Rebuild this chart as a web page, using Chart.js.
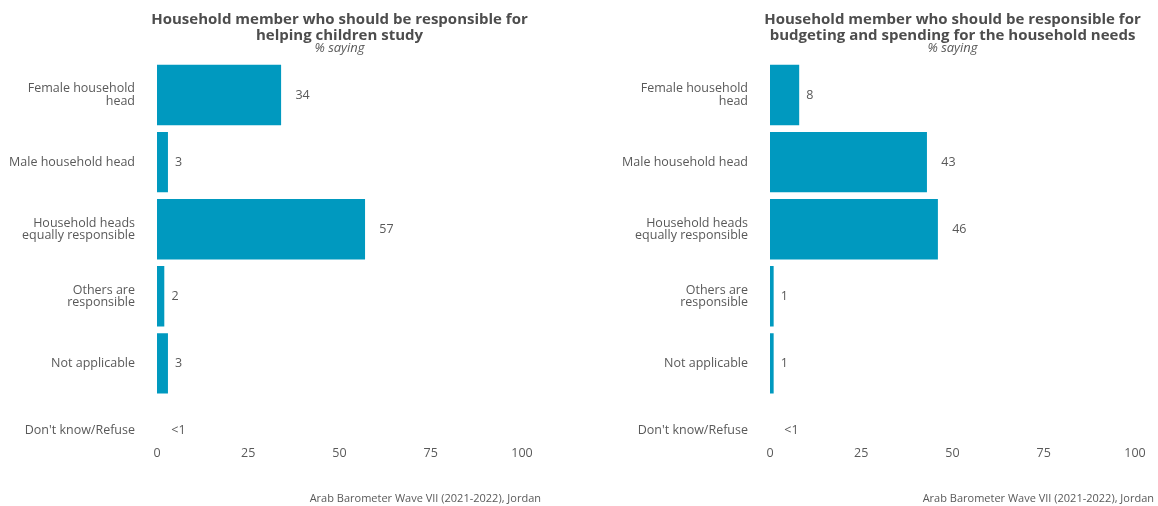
<!DOCTYPE html>
<html>
<head>
<meta charset="utf-8">
<script src="https://cdn.jsdelivr.net/npm/chart.js@4.4.1/dist/chart.umd.min.js"></script>
<style>
  html, body { margin: 0; padding: 0; background: #ffffff; }
  body { width: 1158px; height: 506px; position: relative; overflow: hidden; }
  .panel { position: absolute; top: 0; width: 545px; height: 506px; }
  #p1 { left: 0; }
  #p2 { left: 613px; }
</style>
</head>
<body>
<div class="panel" id="p1"><canvas id="c1" width="545" height="506"></canvas></div>
<div class="panel" id="p2"><canvas id="c2" width="545" height="506"></canvas></div>
<script>
const categories = [
  ['Female household', 'head'],
  'Male household head',
  ['Household heads', 'equally responsible'],
  ['Others are', 'responsible'],
  'Not applicable',
  "Don't know/Refuse"
];
const studyValues = [34, 3, 57, 2, 3, 0];
const studyLabels = ['34', '3', '57', '2', '3', '<1'];
const budgetValues = [8, 43, 46, 1, 1, 0];
const budgetLabels = ['8', '43', '46', '1', '1', '<1'];
const xTicks = [0, 25, 50, 75, 100];
const titleStudy = ['Household member who should be responsible for', 'helping children study'];
const titleBudget = ['Household member who should be responsible for', 'budgeting and spending for the household needs'];
const subtitleText = '% saying';
const captionText = 'Arab Barometer Wave VII (2021-2022), Jordan';

const FONT = "'Open Sans', sans-serif";
const TEXT = '#595959';
const TITLE = '#4d4d4d';
const BAR = '#0099bf';

const valueLabelPlugin = {
  id: 'valueLabels',
  afterDatasetsDraw(chart, args, opts) {
    const ctx = chart.ctx;
    const meta = chart.getDatasetMeta(0);
    ctx.save();
    ctx.font = '12.5px ' + FONT;
    ctx.fillStyle = TEXT;
    ctx.textAlign = 'left';
    ctx.textBaseline = 'middle';
    meta.data.forEach((bar, i) => {
      const t = opts.labels[i];
      const w = ctx.measureText(t).width;
      ctx.fillText(t, bar.x + w, bar.y);
    });
    ctx.restore();
  }
};

const headerPlugin = {
  id: 'header',
  afterDraw(chart, args, opts) {
    const ctx = chart.ctx;
    const a = chart.chartArea;
    const cx = (a.left + a.right) / 2;
    ctx.save();
    ctx.textAlign = 'center';
    ctx.textBaseline = 'middle';
    ctx.fillStyle = TITLE;
    ctx.font = 'bold 15px ' + FONT;
    opts.title.forEach((line, i) => ctx.fillText(line, cx, 20 + i * 16));
    ctx.fillStyle = TEXT;
    ctx.font = 'italic 13px ' + FONT;
    ctx.fillText(opts.subtitle, cx, 48);
    ctx.font = '11px ' + FONT;
    ctx.textAlign = 'right';
    ctx.fillText(opts.caption, chart.width - 4, 499);
    ctx.restore();
  }
};

function makeChart(id, values, labels, title) {
  return new Chart(document.getElementById(id), {
    type: 'bar',
    data: {
      labels: categories,
      datasets: [{
        data: values,
        backgroundColor: BAR,
        borderWidth: 0,
        barPercentage: 0.9,
        categoryPercentage: 1.0
      }]
    },
    plugins: [valueLabelPlugin, headerPlugin],
    options: {
      indexAxis: 'y',
      responsive: false,
      animation: false,
      layout: { padding: { left: 0, right: 23, top: 61.5, bottom: 42 } },
      plugins: {
        legend: { display: false },
        tooltip: { enabled: false },
        title: { display: false },
        subtitle: { display: false },
        valueLabels: { labels: labels },
        header: { title: title, subtitle: subtitleText, caption: captionText }
      },
      scales: {
        x: {
          min: 0,
          max: 100,
          grid: { display: false, drawTicks: false },
          border: { display: false },
          afterBuildTicks(scale) { scale.ticks = xTicks.map(v => ({ value: v })); },
          ticks: {
            color: TEXT,
            font: { family: FONT, size: 12.5 },
            padding: -18,
            maxRotation: 0
          }
        },
        y: {
          grid: { display: false, drawTicks: false },
          border: { display: false },
          afterFit(scale) { scale.width = 157; },
          ticks: {
            color: TEXT,
            font: { family: FONT, size: 12.5, lineHeight: 1.0 },
            padding: 22
          }
        }
      }
    }
  });
}

makeChart('c1', studyValues, studyLabels, titleStudy);
makeChart('c2', budgetValues, budgetLabels, titleBudget);
</script>
</body>
</html>
